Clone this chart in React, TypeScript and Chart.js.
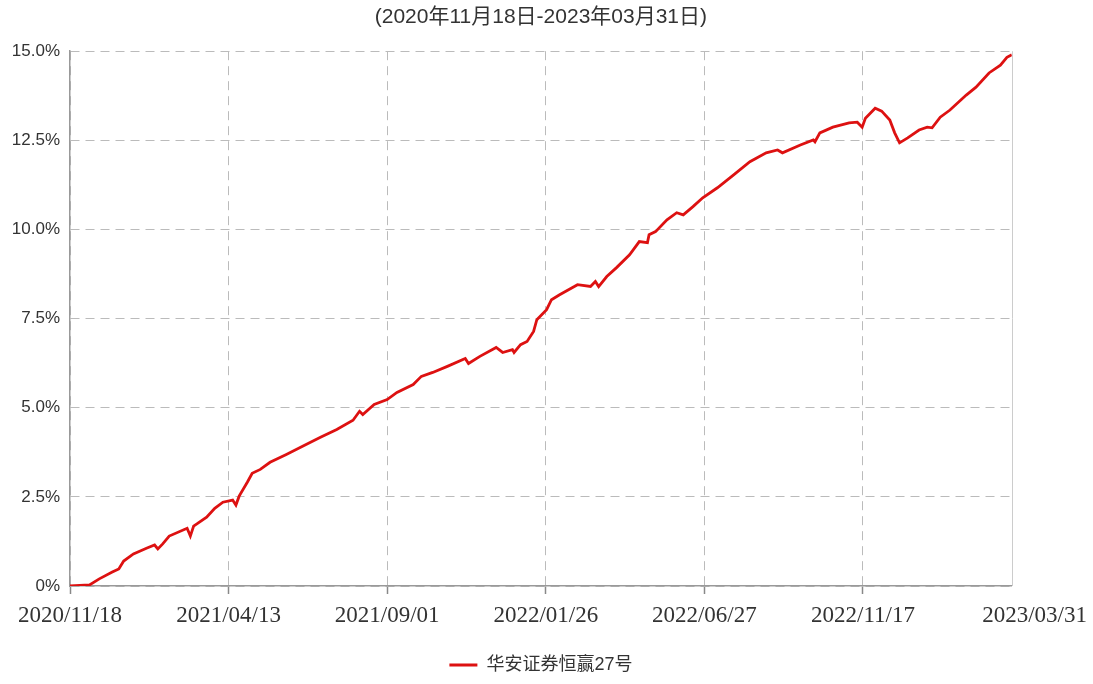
import { useEffect, useRef } from 'react';
import { Chart, registerables } from 'chart.js';

Chart.register(...registerables);

const TITLE = '(2020年11月18日-2023年03月31日)';
const SERIES_NAME = '华安证券恒赢27号';
const TICK_LABELS = ['2020/11/18', '2021/04/13', '2021/09/01', '2022/01/26', '2022/06/27', '2022/11/17', '2023/03/31'];
// trading-day position of each tick label (the last label sits just past the final day)
const TICK_DAYS = [0, 97.5, 195, 292.5, 390, 487.5, 593];
const LAST_DAY = 579; // trading-day index of 2023/03/31

// trading-day index of each sampled point
const dayIndex = [
  0, 6, 12, 18, 26, 30, 33, 39, 47, 52,
  54, 57, 61, 72, 74, 76, 78, 84, 89, 94,
  100, 102, 104, 109, 112, 117, 123, 133, 143, 154,
  164, 174, 178, 180, 187, 195, 201, 211, 216, 223,
  232, 243, 245, 252, 262, 266, 272, 273, 277, 281,
  285, 287, 293, 296, 301, 312, 320, 323, 325, 330,
  336, 344, 350, 355, 356, 360, 367, 373, 377, 383,
  389, 398, 408, 418, 428, 435, 438, 449, 457, 458,
  461, 469, 479, 484, 487, 489, 495, 499, 504, 507,
  510, 515, 522, 527, 530, 535, 541, 551, 557, 565,
  572, 576, 579,
];

// cumulative return (%)
const returnPct = [
  0.00, 0.02, 0.03, 0.20, 0.39, 0.48, 0.70, 0.90, 1.06, 1.15,
  1.04, 1.18, 1.40, 1.62, 1.40, 1.68, 1.74, 1.93, 2.18, 2.35,
  2.41, 2.27, 2.52, 2.91, 3.16, 3.27, 3.47, 3.69, 3.92, 4.17,
  4.39, 4.65, 4.90, 4.81, 5.09, 5.23, 5.43, 5.65, 5.88, 5.99,
  6.16, 6.38, 6.24, 6.44, 6.69, 6.55, 6.63, 6.55, 6.77, 6.86,
  7.14, 7.47, 7.75, 8.03, 8.17, 8.45, 8.40, 8.54, 8.40, 8.68,
  8.93, 9.29, 9.66, 9.63, 9.85, 9.94, 10.27, 10.47, 10.41, 10.64,
  10.89, 11.17, 11.53, 11.90, 12.15, 12.23, 12.15, 12.37, 12.51, 12.46,
  12.71, 12.87, 12.99, 13.01, 12.87, 13.12, 13.40, 13.32, 13.07, 12.71,
  12.43, 12.57, 12.79, 12.87, 12.85, 13.15, 13.35, 13.77, 13.99, 14.39,
  14.61, 14.83, 14.90,
];

const Y_MIN = 0;
const Y_MAX = 15;
const Y_STEP = 2.5;

const SANS = '"Liberation Sans", Arial, "Noto Sans CJK SC", sans-serif';
const SERIF = '"Liberation Serif", "DejaVu Serif", serif';

const rightBorder = {
  id: 'rightBorder',
  beforeDatasetsDraw(chart: any) {
    const { ctx, chartArea } = chart;
    ctx.save();
    ctx.strokeStyle = '#cccccc';
    ctx.lineWidth = 1;
    ctx.beginPath();
    ctx.moveTo(Math.round(chartArea.right) + 0.5, chartArea.top);
    ctx.lineTo(Math.round(chartArea.right) + 0.5, chartArea.bottom);
    ctx.stroke();
    ctx.restore();
  },
};

export default function App() {
  const canvasRef = useRef<HTMLCanvasElement | null>(null);

  useEffect(() => {
    document.body.style.margin = '0';
    const canvas = canvasRef.current;
    if (!canvas) return;
    const points = dayIndex.map((d, i) => ({ x: d, y: returnPct[i] }));
    const lastTick = TICK_LABELS.length - 1;

    const chart = new Chart(canvas, {
      type: 'line',
      data: {
        datasets: [
          {
            label: SERIES_NAME,
            data: points,
            borderColor: '#dd1111',
            backgroundColor: '#dd1111',
            borderWidth: 2.8,
            pointRadius: 0,
            tension: 0,
            fill: false,
          },
        ],
      },
      plugins: [rightBorder],
      options: {
        animation: false,
        responsive: false,
        layout: { padding: { left: 0, right: 81, top: 0, bottom: 0 } },
        plugins: {
          title: {
            display: true,
            text: TITLE,
            fullSize: false,
            color: '#333',
            font: { family: SANS, size: 21, weight: 'normal' },
            padding: { top: 5, bottom: 21 },
          },
          legend: {
            position: 'bottom',
            fullSize: false,
            labels: {
              usePointStyle: true,
              pointStyle: 'line',
              pointStyleWidth: 28,
              color: '#333',
              padding: 10,
              font: { family: SANS, size: 18 },
            },
          },
          tooltip: { enabled: false },
        },
        scales: {
          x: {
            type: 'linear',
            min: 0,
            max: LAST_DAY,
            afterBuildTicks: (scale: any) => {
              scale.ticks = TICK_DAYS.map((v) => ({ value: v }));
            },
            afterFit: (scale: any) => {
              scale.height = 60;
            },
            ticks: {
              autoSkip: false,
              maxRotation: 0,
              padding: 8,
              color: '#333',
              font: { family: SERIF, size: 23 },
              callback: (_v: any, i: number) => TICK_LABELS[i],
            },
            grid: {
              color: (ctx: any) => (ctx.index === lastTick ? 'rgba(0,0,0,0)' : '#bbbbbb'),
              lineWidth: 1,
              drawTicks: true,
              tickLength: 8,
              tickColor: (ctx: any) => (ctx.index === lastTick ? 'rgba(0,0,0,0)' : '#888888'),
              tickWidth: 1.5,
              tickBorderDash: [],
            },
            border: {
              display: true,
              color: '#999999',
              width: 1.5,
              dash: [9, 6],
            },
          },
          y: {
            min: Y_MIN,
            max: Y_MAX,
            afterFit: (scale: any) => {
              scale.width = 70;
            },
            ticks: {
              stepSize: Y_STEP,
              padding: 10,
              color: '#333',
              font: { family: SANS, size: 17 },
              callback: (v: any) => (Number(v) === 0 ? '0%' : Number(v).toFixed(1) + '%'),
            },
            grid: {
              color: '#bbbbbb',
              lineWidth: 1,
              drawTicks: false,
            },
            border: {
              display: true,
              color: '#999999',
              width: 1.5,
              dash: [9, 6],
            },
          },
        },
      },
    });
    return () => chart.destroy();
  }, []);

  return (
    <div style={{ width: 1093, height: 684 }}>
      <canvas ref={canvasRef} width={1093} height={684} />
    </div>
  );
}
